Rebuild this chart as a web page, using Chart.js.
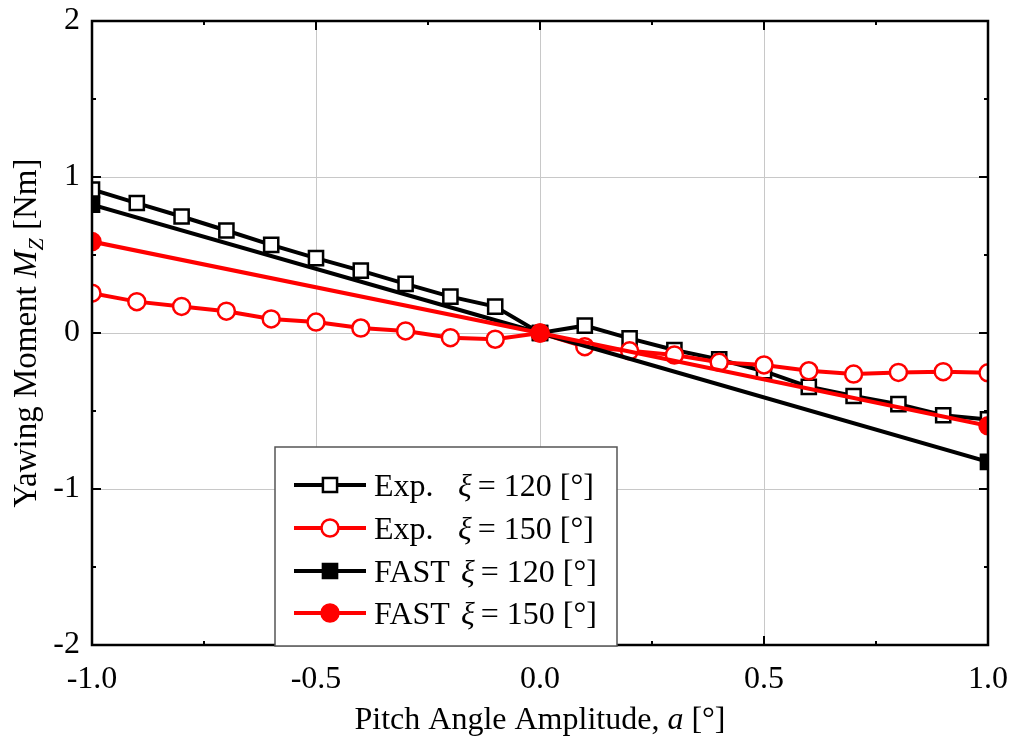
<!DOCTYPE html>
<html>
<head>
<meta charset="utf-8">
<script src="https://cdn.jsdelivr.net/npm/chart.js@4.4.1/dist/chart.umd.min.js"></script>
<style>
  html, body { margin: 0; padding: 0; background: #fff; }
  #wrap { width: 1014px; height: 738px; }
</style>
</head>
<body>
<div id="wrap"><canvas id="c" width="1014" height="738"></canvas></div>
<script>
// Pitch angle amplitude a [°]
const pitchAmp = [-1.0, -0.9, -0.8, -0.7, -0.6, -0.5, -0.4, -0.3, -0.2, -0.1, 0.0,
                  0.1, 0.2, 0.3, 0.4, 0.5, 0.6, 0.7, 0.8, 0.9, 1.0];
// Measured yawing moment Mz [Nm]
const expXi120 = [0.92, 0.833, 0.747, 0.657, 0.565, 0.48, 0.40, 0.315, 0.233, 0.169, 0.0,
                  0.047, -0.034, -0.109, -0.169, -0.245, -0.345, -0.404, -0.456, -0.527, -0.554];
const expXi150 = [0.255, 0.201, 0.17, 0.14, 0.09, 0.07, 0.032, 0.013, -0.03, -0.04, 0.0,
                  -0.088, -0.114, -0.141, -0.188, -0.205, -0.242, -0.263, -0.253, -0.248, -0.255];
// FAST simulation
const fastAmp = [-1.0, 0.0, 1.0];
const fastXi120 = [0.822, 0.0, -0.826];
const fastXi150 = [0.586, 0.0, -0.595];

// Axis ticks
const xTickLabels = [-1.0, -0.5, 0.0, 0.5, 1.0];
const yTickLabels = [-2, -1, 0, 1, 2];
const xMinorTicks = [-0.75, -0.25, 0.25, 0.75];
const yMinorTicks = [-1.5, -0.5, 0.5, 1.5];

const FONT = '"Liberation Serif", "Times New Roman", serif';
const RED = '#ff0000';

const pts = (xs, ys) => xs.map((v, i) => ({ x: v, y: ys[i] }));

const series = [
  { label: 'Exp.', xi: '120', xs: pitchAmp, ys: expXi120, color: '#000', style: 'rect', fill: '#fff', r: 10, lw: 4, order: 4 },
  { label: 'Exp.', xi: '150', xs: pitchAmp, ys: expXi150, color: RED, style: 'circle', fill: '#fff', r: 8.5, lw: 4, order: 3 },
  { label: 'FAST', xi: '120', xs: fastAmp, ys: fastXi120, color: '#000', style: 'rect', fill: '#000', r: 10, lw: 4, order: 2 },
  { label: 'FAST', xi: '150', xs: fastAmp, ys: fastXi150, color: RED, style: 'circle', fill: RED, r: 8.5, lw: 4, order: 1 }
];

// keep the plot box fixed: drop the label-overflow padding a scale asks for
const noOverflow = s => { s.paddingLeft = 0; s.paddingRight = 0; s.paddingTop = 0; s.paddingBottom = 0; };

// Frame, inward tick marks, axis titles and legend box
const decor = {
  id: 'decor',
  afterDraw(chart) {
    const { ctx, chartArea: a, scales: { x, y } } = chart;
    ctx.save();

    // inward ticks on all four sides
    ctx.strokeStyle = '#000';
    ctx.lineWidth = 2;
    const tick = (x1, y1, x2, y2) => { ctx.beginPath(); ctx.moveTo(x1, y1); ctx.lineTo(x2, y2); ctx.stroke(); };
    xTickLabels.forEach(v => { const px = x.getPixelForValue(v); tick(px, a.bottom, px, a.bottom - 9); tick(px, a.top, px, a.top + 9); });
    xMinorTicks.forEach(v => { const px = x.getPixelForValue(v); tick(px, a.bottom, px, a.bottom - 4); tick(px, a.top, px, a.top + 4); });
    yTickLabels.forEach(v => { const py = y.getPixelForValue(v); tick(a.left, py, a.left + 9, py); tick(a.right, py, a.right - 9, py); });
    yMinorTicks.forEach(v => { const py = y.getPixelForValue(v); tick(a.left, py, a.left + 4, py); tick(a.right, py, a.right - 4, py); });

    // plot frame
    ctx.lineWidth = 2.5;
    ctx.strokeRect(a.left, a.top, a.right - a.left, a.bottom - a.top);

    ctx.fillStyle = '#000';
    ctx.textBaseline = 'alphabetic';

    // x axis title
    const xParts = [
      { t: 'Pitch Angle Amplitude, ', f: `32px ${FONT}` },
      { t: 'a', f: `italic 32px ${FONT}` },
      { t: ' [°]', f: `32px ${FONT}` }
    ];
    let w = 0;
    xParts.forEach(p => { ctx.font = p.f; p.w = ctx.measureText(p.t).width; w += p.w; });
    let cx = (a.left + a.right) / 2 - w / 2;
    xParts.forEach(p => { ctx.font = p.f; ctx.textAlign = 'left'; ctx.fillText(p.t, cx, 729); cx += p.w; });

    // y axis title (rotated)
    const yParts = [
      { t: 'Yawing Moment ', f: `33px ${FONT}`, dy: 0 },
      { t: 'M', f: `italic 33px ${FONT}`, dy: 0 },
      { t: 'Z', f: `italic 22px ${FONT}`, dy: 7 },
      { t: ' [Nm]', f: `33px ${FONT}`, dy: 0 }
    ];
    w = 0;
    yParts.forEach(p => { ctx.font = p.f; p.w = ctx.measureText(p.t).width; w += p.w; });
    ctx.save();
    ctx.translate(36, (a.top + a.bottom) / 2);
    ctx.rotate(-Math.PI / 2);
    cx = -w / 2;
    yParts.forEach(p => { ctx.font = p.f; ctx.textAlign = 'left'; ctx.fillText(p.t, cx, p.dy); cx += p.w; });
    ctx.restore();

    // legend
    const lx = 275, ly = 447, lw = 342, lh = 199;
    ctx.fillStyle = '#fff';
    ctx.fillRect(lx, ly, lw, lh);
    ctx.strokeStyle = '#555';
    ctx.lineWidth = 1.5;
    ctx.strokeRect(lx, ly, lw, lh);
    const rows = [485, 528, 571, 613];
    series.forEach((s, i) => {
      const ry = rows[i];
      ctx.strokeStyle = s.color;
      ctx.lineWidth = s.lw;
      ctx.beginPath(); ctx.moveTo(294, ry); ctx.lineTo(366, ry); ctx.stroke();
      ctx.lineWidth = 2.5;
      ctx.fillStyle = s.fill;
      ctx.beginPath();
      if (s.style === 'rect') {
        const h = s.r * Math.SQRT1_2;
        ctx.rect(330 - h, ry - h, 2 * h, 2 * h);
      } else {
        ctx.arc(330, ry, s.r, 0, Math.PI * 2);
      }
      ctx.fill(); ctx.stroke();

      ctx.fillStyle = '#000';
      ctx.textAlign = 'left';
      const base = ry + 11;
      ctx.font = `32px ${FONT}`;
      ctx.fillText(s.label, 374, base);
      const xiX = s.label === 'FAST' ? 461 : 458;
      ctx.font = `italic 32px ${FONT}`;
      ctx.fillText('ξ', xiX, base);
      const xiW = ctx.measureText('ξ').width;
      ctx.font = `32px ${FONT}`;
      ctx.fillText('= ' + s.xi + ' [°]', xiX + xiW + 6, base);
    });

    ctx.restore();
  }
};

const chart = new Chart(document.getElementById('c'), {
  type: 'line',
  data: {
    datasets: series.map(s => ({
      label: s.label + ' ξ = ' + s.xi + ' [°]',
      data: pts(s.xs, s.ys),
      borderColor: s.color,
      borderWidth: s.lw,
      backgroundColor: s.fill,
      pointStyle: s.style,
      pointRadius: s.r,
      pointHoverRadius: s.r,
      pointBorderWidth: 2.5,
      pointBorderColor: s.color,
      pointBackgroundColor: s.fill,
      tension: 0,
      fill: false,
      clip: 0,
      order: s.order
    }))
  },
  options: {
    responsive: false,
    devicePixelRatio: 1,
    animation: false,
    layout: { padding: { left: 0, top: 21, right: 26, bottom: 0 } },
    plugins: { legend: { display: false }, tooltip: { enabled: false } },
    scales: {
      x: {
        type: 'linear',
        min: -1, max: 1,
        afterFit: s => { s.height = 93; noOverflow(s); },
        afterBuildTicks: s => { s.ticks = xTickLabels.map(v => ({ value: v })); },
        ticks: {
          color: '#000',
          font: { family: FONT, size: 32 },
          padding: 15,
          maxRotation: 0,
          callback: v => Number(v).toFixed(1)
        },
        grid: { color: '#c8c8c8', lineWidth: 1, drawTicks: false },
        border: { display: false }
      },
      y: {
        type: 'linear',
        min: -2, max: 2,
        afterFit: s => { s.width = 92; noOverflow(s); },
        afterBuildTicks: s => { s.ticks = yTickLabels.map(v => ({ value: v })); },
        ticks: {
          color: '#000',
          font: { family: FONT, size: 32 },
          padding: 12,
          callback: v => String(v)
        },
        grid: { color: '#c8c8c8', lineWidth: 1, drawTicks: false },
        border: { display: false }
      }
    }
  },
  plugins: [decor]
});
</script>
</body>
</html>
